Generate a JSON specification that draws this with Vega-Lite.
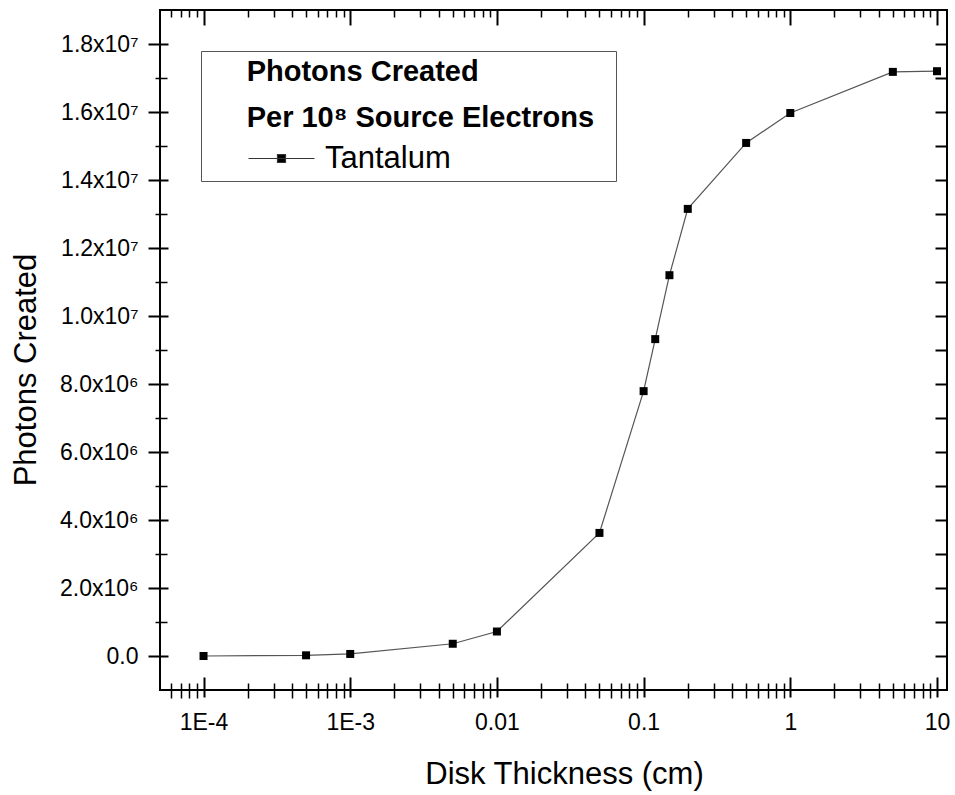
{
  "$schema": "https://vega.github.io/schema/vega-lite/v6.json",
  "width": 787,
  "height": 680,
  "autosize": {"type": "none"},
  "padding": {"left": 160, "top": 10, "right": 8, "bottom": 105},
  "background": "white",
  "config": {
    "view": {"stroke": "black", "strokeWidth": 2},
    "axis": {
      "grid": false,
      "domain": false,
      "tickColor": "black",
      "labelColor": "black",
      "titleColor": "black",
      "labelFont": "Liberation Sans",
      "titleFont": "Liberation Sans",
      "titleFontWeight": "normal",
      "labelFlush": false,
      "labelOverlap": false
    }
  },
  "data": {
    "values": [
      {"thickness": 0.0001, "photons": 0, "series": "Tantalum"},
      {"thickness": 0.0005, "photons": 20000, "series": "Tantalum"},
      {"thickness": 0.001, "photons": 60000, "series": "Tantalum"},
      {"thickness": 0.005, "photons": 360000, "series": "Tantalum"},
      {"thickness": 0.01, "photons": 720000, "series": "Tantalum"},
      {"thickness": 0.05, "photons": 3620000, "series": "Tantalum"},
      {"thickness": 0.1, "photons": 7790000, "series": "Tantalum"},
      {"thickness": 0.12, "photons": 9320000, "series": "Tantalum"},
      {"thickness": 0.15, "photons": 11200000, "series": "Tantalum"},
      {"thickness": 0.2, "photons": 13150000, "series": "Tantalum"},
      {"thickness": 0.5, "photons": 15090000, "series": "Tantalum"},
      {"thickness": 1, "photons": 15970000, "series": "Tantalum"},
      {"thickness": 5, "photons": 17180000, "series": "Tantalum"},
      {"thickness": 10, "photons": 17200000, "series": "Tantalum"}
    ]
  },
  "layer": [
    {
      "mark": {"type": "line", "color": "#555555", "strokeWidth": 1.2},
      "encoding": {
        "x": {
          "field": "thickness", "type": "quantitative",
          "scale": {"type": "log", "domain": [5.05e-5, 11.7], "nice": false},
          "axis": {
            "orient": "bottom",
            "values": [0.0001, 0.001, 0.01, 0.1, 1, 10],
            "tickSize": 7, "tickWidth": 2,
            "labelFontSize": 23, "labelPadding": 14,
            "labelExpr": "datum.value < 0.0005 ? '1E-4' : datum.value < 0.005 ? '1E-3' : datum.value < 0.05 ? '0.01' : datum.value < 0.5 ? '0.1' : datum.value < 5 ? '1' : '10'",
            "title": "Disk Thickness (cm)",
            "titleFontSize": 31,
            "titleX": 404, "titleY": 93,
            "titleBaseline": "alphabetic"
          }
        },
        "y": {
          "field": "photons", "type": "quantitative",
          "scale": {"domain": [-1000000, 19000000], "nice": false, "zero": false},
          "axis": {
            "orient": "left",
            "values": [0, 2000000, 4000000, 6000000, 8000000, 10000000, 12000000, 14000000, 16000000, 18000000],
            "tickSize": 12, "tickWidth": 2,
            "labelFontSize": 23, "labelPadding": 10,
            "labelExpr": "datum.value == 0 ? '0.0' : datum.value >= 10000000 ? format(datum.value / 10000000, '.1f') + 'x10⁷' : format(datum.value / 1000000, '.1f') + 'x10⁶'",
            "title": "Photons Created",
            "titleFontSize": 31,
            "titleAngle": -90,
            "titleX": -125, "titleY": 359.5,
            "titleBaseline": "alphabetic"
          }
        }
      }
    },
    {
      "mark": {"type": "point", "shape": "square", "filled": true, "size": 64, "opacity": 1},
      "encoding": {
        "x": {
          "field": "thickness", "type": "quantitative",
          "axis": {
            "orient": "bottom", "values": [0.0001, 0.001, 0.01, 0.1, 1, 10],
            "offset": -13, "tickSize": 13, "tickWidth": 2, "labels": false, "title": null
          }
        },
        "y": {
          "field": "photons", "type": "quantitative",
          "axis": {
            "orient": "left",
            "values": [0, 2000000, 4000000, 6000000, 8000000, 10000000, 12000000, 14000000, 16000000, 18000000],
            "offset": -8, "tickSize": 8, "tickWidth": 2, "labels": false, "title": null
          }
        },
        "color": {
          "field": "series", "type": "nominal",
          "scale": {"range": ["black"]},
          "legend": {
            "orient": "none",
            "legendX": 41, "legendY": 41,
            "direction": "vertical",
            "title": ["\u200b\u2003\u2004Photons Created", "\u200b\u2003\u2004Per 10\u2078 Source Electrons\u2002\u200b"],
            "titleFont": "Liberation Sans", "titleFontSize": 29, "titleFontWeight": "bold",
            "titleColor": "black", "titleLineHeight": 46, "titlePadding": 10,
            "titleAnchor": "start", "titleAlign": "left", "titleLimit": 800,
            "labelFont": "Liberation Sans", "labelFontSize": 31, "labelColor": "black",
            "labelOffset": 28, "labelLimit": 400,
            "symbolSize": 400, "symbolOffset": 58,
            "symbolType": "M-3.3,0L3.3,0M-0.4,-0.4L0.4,-0.4L0.4,0.4L-0.4,0.4Z",
            "symbolFillColor": "black", "symbolStrokeColor": "#333333", "symbolStrokeWidth": 1.2,
            "strokeColor": "#555555",
            "padding": 7
          }
        }
      }
    },
    {
      "mark": {"type": "point", "opacity": 0},
      "encoding": {
        "x": {
          "field": "thickness", "type": "quantitative",
          "axis": {
            "orient": "bottom",
            "values": [0.00006, 0.00007, 0.00008, 0.00009, 0.0002, 0.0003, 0.0004, 0.0005, 0.0006, 0.0007, 0.0008, 0.0009, 0.002, 0.003, 0.004, 0.005, 0.006, 0.007, 0.008, 0.009, 0.02, 0.03, 0.04, 0.05, 0.06, 0.07, 0.08, 0.09, 0.2, 0.3, 0.4, 0.5, 0.6, 0.7, 0.8, 0.9, 2, 3, 4, 5, 6, 7, 8, 9],
            "offset": -7, "tickSize": 15, "tickWidth": 1.5, "labels": false, "title": null
          }
        },
        "y": {
          "field": "photons", "type": "quantitative",
          "axis": {
            "orient": "left",
            "values": [1000000, 3000000, 5000000, 7000000, 9000000, 11000000, 13000000, 15000000, 17000000],
            "offset": -7, "tickSize": 12, "tickWidth": 1.5, "labels": false, "title": null
          }
        }
      }
    },
    {
      "mark": {"type": "point", "opacity": 0},
      "encoding": {
        "x": {
          "field": "thickness", "type": "quantitative",
          "axis": {
            "orient": "top", "values": [0.0001, 0.001, 0.01, 0.1, 1, 10],
            "offset": -15, "tickSize": 15, "tickWidth": 2, "labels": false, "title": null
          }
        },
        "y": {
          "field": "photons", "type": "quantitative",
          "axis": {
            "orient": "right",
            "values": [0, 1000000, 2000000, 3000000, 4000000, 5000000, 6000000, 7000000, 8000000, 9000000, 10000000, 11000000, 12000000, 13000000, 14000000, 15000000, 16000000, 17000000, 18000000],
            "offset": -12, "tickSize": 12, "tickWidth": 2, "labels": false, "title": null
          }
        }
      }
    },
    {
      "mark": {"type": "point", "opacity": 0},
      "encoding": {
        "x": {
          "field": "thickness", "type": "quantitative",
          "axis": {
            "orient": "top",
            "values": [0.00006, 0.00007, 0.00008, 0.00009, 0.0002, 0.0003, 0.0004, 0.0005, 0.0006, 0.0007, 0.0008, 0.0009, 0.002, 0.003, 0.004, 0.005, 0.006, 0.007, 0.008, 0.009, 0.02, 0.03, 0.04, 0.05, 0.06, 0.07, 0.08, 0.09, 0.2, 0.3, 0.4, 0.5, 0.6, 0.7, 0.8, 0.9, 2, 3, 4, 5, 6, 7, 8, 9],
            "offset": -7, "tickSize": 7, "tickWidth": 1.5, "labels": false, "title": null
          }
        },
        "y": {"field": "photons", "type": "quantitative", "axis": null}
      }
    }
  ],
  "resolve": {"axis": {"x": "independent", "y": "independent"}}
}
